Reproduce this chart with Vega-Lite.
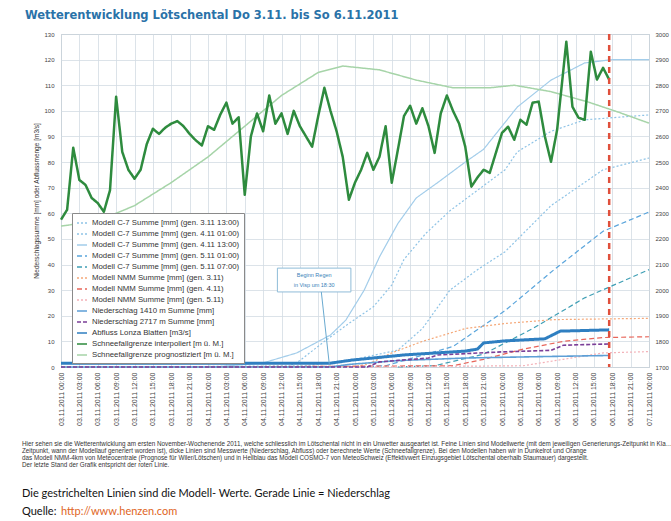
{
  "$schema": "https://vega.github.io/schema/vega-lite/v6.json",
  "padding": {"left": 22, "top": 9, "right": 0, "bottom": 0},
  "spacing": 10,
  "config": {
    "font": "Liberation Sans",
    "view": {"stroke": "#aab4bc"},
    "axis": {"labelFontSize": 6, "labelColor": "#444", "gridColor": "#d3dce3", "gridWidth": 0.8, "domain": false, "ticks": false, "titleFontSize": 6.5, "titleFontWeight": "normal", "titleColor": "#333"},
    "legend": {"orient": "none", "legendX": 11, "legendY": 179, "fillColor": "white", "strokeColor": "#8a8a8a", "padding": 4, "rowPadding": 1, "labelFontSize": 7.8, "labelColor": "#333", "symbolType": "stroke", "symbolSize": 100, "symbolStrokeWidth": 1.5, "labelLimit": 220, "labelOffset": 4}
  },
  "datasets": {
    "links": [
      {"h": 25, "serie": "Modell C-7 Summe [mm] (gen. 4.11 13:00)", "wert": 0},
      {"h": 33, "serie": "Modell C-7 Summe [mm] (gen. 4.11 13:00)", "wert": 1.6},
      {"h": 38.5, "serie": "Modell C-7 Summe [mm] (gen. 4.11 13:00)", "wert": 5.5},
      {"h": 44, "serie": "Modell C-7 Summe [mm] (gen. 4.11 13:00)", "wert": 12.5},
      {"h": 46.5, "serie": "Modell C-7 Summe [mm] (gen. 4.11 13:00)", "wert": 18.3},
      {"h": 49.5, "serie": "Modell C-7 Summe [mm] (gen. 4.11 13:00)", "wert": 30},
      {"h": 52, "serie": "Modell C-7 Summe [mm] (gen. 4.11 13:00)", "wert": 43},
      {"h": 55, "serie": "Modell C-7 Summe [mm] (gen. 4.11 13:00)", "wert": 56},
      {"h": 58, "serie": "Modell C-7 Summe [mm] (gen. 4.11 13:00)", "wert": 66},
      {"h": 61.5, "serie": "Modell C-7 Summe [mm] (gen. 4.11 13:00)", "wert": 72},
      {"h": 66, "serie": "Modell C-7 Summe [mm] (gen. 4.11 13:00)", "wert": 80},
      {"h": 69, "serie": "Modell C-7 Summe [mm] (gen. 4.11 13:00)", "wert": 85},
      {"h": 72, "serie": "Modell C-7 Summe [mm] (gen. 4.11 13:00)", "wert": 94},
      {"h": 74.5, "serie": "Modell C-7 Summe [mm] (gen. 4.11 13:00)", "wert": 101.5},
      {"h": 80, "serie": "Modell C-7 Summe [mm] (gen. 4.11 13:00)", "wert": 112},
      {"h": 85.5, "serie": "Modell C-7 Summe [mm] (gen. 4.11 13:00)", "wert": 118.7},
      {"h": 90, "serie": "Modell C-7 Summe [mm] (gen. 4.11 13:00)", "wert": 120},
      {"h": 96, "serie": "Modell C-7 Summe [mm] (gen. 4.11 13:00)", "wert": 120},
      {"h": 37, "serie": "Modell C-7 Summe [mm] (gen. 4.11 01:00)", "wert": 0},
      {"h": 39, "serie": "Modell C-7 Summe [mm] (gen. 4.11 01:00)", "wert": 2.5},
      {"h": 43, "serie": "Modell C-7 Summe [mm] (gen. 4.11 01:00)", "wert": 10},
      {"h": 47, "serie": "Modell C-7 Summe [mm] (gen. 4.11 01:00)", "wert": 17},
      {"h": 51, "serie": "Modell C-7 Summe [mm] (gen. 4.11 01:00)", "wert": 23.5},
      {"h": 54, "serie": "Modell C-7 Summe [mm] (gen. 4.11 01:00)", "wert": 32},
      {"h": 56, "serie": "Modell C-7 Summe [mm] (gen. 4.11 01:00)", "wert": 42},
      {"h": 59.5, "serie": "Modell C-7 Summe [mm] (gen. 4.11 01:00)", "wert": 52},
      {"h": 63.5, "serie": "Modell C-7 Summe [mm] (gen. 4.11 01:00)", "wert": 61},
      {"h": 72.5, "serie": "Modell C-7 Summe [mm] (gen. 4.11 01:00)", "wert": 77},
      {"h": 74.5, "serie": "Modell C-7 Summe [mm] (gen. 4.11 01:00)", "wert": 84},
      {"h": 80, "serie": "Modell C-7 Summe [mm] (gen. 4.11 01:00)", "wert": 92},
      {"h": 85.5, "serie": "Modell C-7 Summe [mm] (gen. 4.11 01:00)", "wert": 96.5},
      {"h": 96, "serie": "Modell C-7 Summe [mm] (gen. 4.11 01:00)", "wert": 98.4},
      {"h": 13, "serie": "Modell C-7 Summe [mm] (gen. 3.11 13:00)", "wert": 0},
      {"h": 40, "serie": "Modell C-7 Summe [mm] (gen. 3.11 13:00)", "wert": 0.5},
      {"h": 48, "serie": "Modell C-7 Summe [mm] (gen. 3.11 13:00)", "wert": 3},
      {"h": 55, "serie": "Modell C-7 Summe [mm] (gen. 3.11 13:00)", "wert": 6.6},
      {"h": 59, "serie": "Modell C-7 Summe [mm] (gen. 3.11 13:00)", "wert": 15},
      {"h": 63.5, "serie": "Modell C-7 Summe [mm] (gen. 3.11 13:00)", "wert": 30},
      {"h": 68, "serie": "Modell C-7 Summe [mm] (gen. 3.11 13:00)", "wert": 38},
      {"h": 72.5, "serie": "Modell C-7 Summe [mm] (gen. 3.11 13:00)", "wert": 45},
      {"h": 80, "serie": "Modell C-7 Summe [mm] (gen. 3.11 13:00)", "wert": 63},
      {"h": 88.5, "serie": "Modell C-7 Summe [mm] (gen. 3.11 13:00)", "wert": 77},
      {"h": 96, "serie": "Modell C-7 Summe [mm] (gen. 3.11 13:00)", "wert": 81.6},
      {"h": 49, "serie": "Modell C-7 Summe [mm] (gen. 5.11 01:00)", "wert": 0},
      {"h": 53, "serie": "Modell C-7 Summe [mm] (gen. 5.11 01:00)", "wert": 0.5},
      {"h": 64, "serie": "Modell C-7 Summe [mm] (gen. 5.11 01:00)", "wert": 8},
      {"h": 72.5, "serie": "Modell C-7 Summe [mm] (gen. 5.11 01:00)", "wert": 22},
      {"h": 80.5, "serie": "Modell C-7 Summe [mm] (gen. 5.11 01:00)", "wert": 38},
      {"h": 88.5, "serie": "Modell C-7 Summe [mm] (gen. 5.11 01:00)", "wert": 53},
      {"h": 96, "serie": "Modell C-7 Summe [mm] (gen. 5.11 01:00)", "wert": 60.5},
      {"h": 55, "serie": "Modell C-7 Summe [mm] (gen. 5.11 07:00)", "wert": 0},
      {"h": 61, "serie": "Modell C-7 Summe [mm] (gen. 5.11 07:00)", "wert": 0.5},
      {"h": 69, "serie": "Modell C-7 Summe [mm] (gen. 5.11 07:00)", "wert": 5},
      {"h": 77, "serie": "Modell C-7 Summe [mm] (gen. 5.11 07:00)", "wert": 15},
      {"h": 85.5, "serie": "Modell C-7 Summe [mm] (gen. 5.11 07:00)", "wert": 27},
      {"h": 96, "serie": "Modell C-7 Summe [mm] (gen. 5.11 07:00)", "wert": 38},
      {"h": 0, "serie": "Modell NMM Summe [mm] (gen. 3.11)", "wert": 0},
      {"h": 48, "serie": "Modell NMM Summe [mm] (gen. 3.11)", "wert": 0.3},
      {"h": 50, "serie": "Modell NMM Summe [mm] (gen. 3.11)", "wert": 1},
      {"h": 54, "serie": "Modell NMM Summe [mm] (gen. 3.11)", "wert": 5.5},
      {"h": 59, "serie": "Modell NMM Summe [mm] (gen. 3.11)", "wert": 10},
      {"h": 66, "serie": "Modell NMM Summe [mm] (gen. 3.11)", "wert": 15},
      {"h": 72.5, "serie": "Modell NMM Summe [mm] (gen. 3.11)", "wert": 17},
      {"h": 80.5, "serie": "Modell NMM Summe [mm] (gen. 3.11)", "wert": 18.5},
      {"h": 96, "serie": "Modell NMM Summe [mm] (gen. 3.11)", "wert": 19},
      {"h": 24, "serie": "Modell NMM Summe [mm] (gen. 4.11)", "wert": 0},
      {"h": 64, "serie": "Modell NMM Summe [mm] (gen. 4.11)", "wert": 0.5},
      {"h": 69, "serie": "Modell NMM Summe [mm] (gen. 4.11)", "wert": 3},
      {"h": 75.5, "serie": "Modell NMM Summe [mm] (gen. 4.11)", "wert": 7},
      {"h": 82, "serie": "Modell NMM Summe [mm] (gen. 4.11)", "wert": 10},
      {"h": 88.5, "serie": "Modell NMM Summe [mm] (gen. 4.11)", "wert": 11.5},
      {"h": 96, "serie": "Modell NMM Summe [mm] (gen. 4.11)", "wert": 11.8},
      {"h": 48, "serie": "Modell NMM Summe [mm] (gen. 5.11)", "wert": 0},
      {"h": 75.5, "serie": "Modell NMM Summe [mm] (gen. 5.11)", "wert": 0.5},
      {"h": 82, "serie": "Modell NMM Summe [mm] (gen. 5.11)", "wert": 3},
      {"h": 88.5, "serie": "Modell NMM Summe [mm] (gen. 5.11)", "wert": 5.5},
      {"h": 96, "serie": "Modell NMM Summe [mm] (gen. 5.11)", "wert": 6},
      {"h": 0, "serie": "Niederschlag 1410 m Summe [mm]", "wert": 0},
      {"h": 44, "serie": "Niederschlag 1410 m Summe [mm]", "wert": 0},
      {"h": 47, "serie": "Niederschlag 1410 m Summe [mm]", "wert": 1},
      {"h": 55, "serie": "Niederschlag 1410 m Summe [mm]", "wert": 2.5},
      {"h": 66, "serie": "Niederschlag 1410 m Summe [mm]", "wert": 3.5},
      {"h": 77, "serie": "Niederschlag 1410 m Summe [mm]", "wert": 4},
      {"h": 89.5, "serie": "Niederschlag 1410 m Summe [mm]", "wert": 4.5},
      {"h": 0, "serie": "Niederschlag 2717 m Summe [mm]", "wert": 0},
      {"h": 50, "serie": "Niederschlag 2717 m Summe [mm]", "wert": 0},
      {"h": 52, "serie": "Niederschlag 2717 m Summe [mm]", "wert": 2},
      {"h": 60, "serie": "Niederschlag 2717 m Summe [mm]", "wert": 3.5},
      {"h": 61.5, "serie": "Niederschlag 2717 m Summe [mm]", "wert": 4.7},
      {"h": 72, "serie": "Niederschlag 2717 m Summe [mm]", "wert": 5.9},
      {"h": 80, "serie": "Niederschlag 2717 m Summe [mm]", "wert": 6.5},
      {"h": 82, "serie": "Niederschlag 2717 m Summe [mm]", "wert": 8.5},
      {"h": 89.5, "serie": "Niederschlag 2717 m Summe [mm]", "wert": 9},
      {"h": 0, "serie": "Abfluss Lonza Blatten [m3/s]", "wert": 1.5},
      {"h": 44, "serie": "Abfluss Lonza Blatten [m3/s]", "wert": 1.5},
      {"h": 47.5, "serie": "Abfluss Lonza Blatten [m3/s]", "wert": 2.7},
      {"h": 56, "serie": "Abfluss Lonza Blatten [m3/s]", "wert": 4.7},
      {"h": 66, "serie": "Abfluss Lonza Blatten [m3/s]", "wert": 6.2},
      {"h": 68, "serie": "Abfluss Lonza Blatten [m3/s]", "wert": 7},
      {"h": 69, "serie": "Abfluss Lonza Blatten [m3/s]", "wert": 9.4},
      {"h": 72.5, "serie": "Abfluss Lonza Blatten [m3/s]", "wert": 10.2},
      {"h": 79, "serie": "Abfluss Lonza Blatten [m3/s]", "wert": 11},
      {"h": 81.5, "serie": "Abfluss Lonza Blatten [m3/s]", "wert": 14},
      {"h": 89.5, "serie": "Abfluss Lonza Blatten [m3/s]", "wert": 14.5}
    ],
    "gruen": [
      {"h": 0, "serie": "Schneefallgrenze interpoliert [m ü. M.]", "wert": 2275},
      {"h": 1, "serie": "Schneefallgrenze interpoliert [m ü. M.]", "wert": 2314},
      {"h": 2, "serie": "Schneefallgrenze interpoliert [m ü. M.]", "wert": 2556},
      {"h": 3, "serie": "Schneefallgrenze interpoliert [m ü. M.]", "wert": 2430},
      {"h": 4, "serie": "Schneefallgrenze interpoliert [m ü. M.]", "wert": 2411},
      {"h": 5, "serie": "Schneefallgrenze interpoliert [m ü. M.]", "wert": 2360},
      {"h": 6, "serie": "Schneefallgrenze interpoliert [m ü. M.]", "wert": 2340},
      {"h": 7, "serie": "Schneefallgrenze interpoliert [m ü. M.]", "wert": 2306},
      {"h": 8, "serie": "Schneefallgrenze interpoliert [m ü. M.]", "wert": 2390},
      {"h": 9, "serie": "Schneefallgrenze interpoliert [m ü. M.]", "wert": 2755},
      {"h": 10, "serie": "Schneefallgrenze interpoliert [m ü. M.]", "wert": 2540},
      {"h": 11, "serie": "Schneefallgrenze interpoliert [m ü. M.]", "wert": 2470},
      {"h": 12, "serie": "Schneefallgrenze interpoliert [m ü. M.]", "wert": 2435},
      {"h": 13, "serie": "Schneefallgrenze interpoliert [m ü. M.]", "wert": 2470},
      {"h": 14, "serie": "Schneefallgrenze interpoliert [m ü. M.]", "wert": 2570},
      {"h": 15, "serie": "Schneefallgrenze interpoliert [m ü. M.]", "wert": 2630},
      {"h": 16, "serie": "Schneefallgrenze interpoliert [m ü. M.]", "wert": 2610},
      {"h": 17, "serie": "Schneefallgrenze interpoliert [m ü. M.]", "wert": 2634},
      {"h": 18, "serie": "Schneefallgrenze interpoliert [m ü. M.]", "wert": 2650},
      {"h": 19, "serie": "Schneefallgrenze interpoliert [m ü. M.]", "wert": 2660},
      {"h": 20, "serie": "Schneefallgrenze interpoliert [m ü. M.]", "wert": 2640},
      {"h": 21, "serie": "Schneefallgrenze interpoliert [m ü. M.]", "wert": 2610},
      {"h": 22, "serie": "Schneefallgrenze interpoliert [m ü. M.]", "wert": 2585},
      {"h": 23, "serie": "Schneefallgrenze interpoliert [m ü. M.]", "wert": 2565},
      {"h": 24, "serie": "Schneefallgrenze interpoliert [m ü. M.]", "wert": 2640},
      {"h": 25, "serie": "Schneefallgrenze interpoliert [m ü. M.]", "wert": 2626},
      {"h": 26, "serie": "Schneefallgrenze interpoliert [m ü. M.]", "wert": 2685},
      {"h": 27, "serie": "Schneefallgrenze interpoliert [m ü. M.]", "wert": 2732},
      {"h": 28, "serie": "Schneefallgrenze interpoliert [m ü. M.]", "wert": 2650},
      {"h": 29, "serie": "Schneefallgrenze interpoliert [m ü. M.]", "wert": 2675},
      {"h": 30, "serie": "Schneefallgrenze interpoliert [m ü. M.]", "wert": 2372},
      {"h": 31, "serie": "Schneefallgrenze interpoliert [m ü. M.]", "wert": 2600},
      {"h": 32, "serie": "Schneefallgrenze interpoliert [m ü. M.]", "wert": 2690},
      {"h": 33, "serie": "Schneefallgrenze interpoliert [m ü. M.]", "wert": 2620},
      {"h": 34, "serie": "Schneefallgrenze interpoliert [m ü. M.]", "wert": 2760},
      {"h": 35, "serie": "Schneefallgrenze interpoliert [m ü. M.]", "wert": 2650},
      {"h": 36, "serie": "Schneefallgrenze interpoliert [m ü. M.]", "wert": 2690},
      {"h": 37, "serie": "Schneefallgrenze interpoliert [m ü. M.]", "wert": 2610},
      {"h": 38, "serie": "Schneefallgrenze interpoliert [m ü. M.]", "wert": 2700},
      {"h": 39, "serie": "Schneefallgrenze interpoliert [m ü. M.]", "wert": 2640},
      {"h": 40, "serie": "Schneefallgrenze interpoliert [m ü. M.]", "wert": 2600},
      {"h": 41, "serie": "Schneefallgrenze interpoliert [m ü. M.]", "wert": 2560},
      {"h": 42, "serie": "Schneefallgrenze interpoliert [m ü. M.]", "wert": 2680},
      {"h": 43, "serie": "Schneefallgrenze interpoliert [m ü. M.]", "wert": 2790},
      {"h": 44, "serie": "Schneefallgrenze interpoliert [m ü. M.]", "wert": 2700},
      {"h": 45, "serie": "Schneefallgrenze interpoliert [m ü. M.]", "wert": 2620},
      {"h": 46, "serie": "Schneefallgrenze interpoliert [m ü. M.]", "wert": 2520},
      {"h": 47, "serie": "Schneefallgrenze interpoliert [m ü. M.]", "wert": 2353},
      {"h": 48, "serie": "Schneefallgrenze interpoliert [m ü. M.]", "wert": 2420},
      {"h": 49, "serie": "Schneefallgrenze interpoliert [m ü. M.]", "wert": 2470},
      {"h": 50, "serie": "Schneefallgrenze interpoliert [m ü. M.]", "wert": 2536},
      {"h": 51, "serie": "Schneefallgrenze interpoliert [m ü. M.]", "wert": 2470},
      {"h": 52, "serie": "Schneefallgrenze interpoliert [m ü. M.]", "wert": 2521},
      {"h": 53, "serie": "Schneefallgrenze interpoliert [m ü. M.]", "wert": 2640},
      {"h": 54, "serie": "Schneefallgrenze interpoliert [m ü. M.]", "wert": 2419},
      {"h": 55, "serie": "Schneefallgrenze interpoliert [m ü. M.]", "wert": 2548},
      {"h": 56, "serie": "Schneefallgrenze interpoliert [m ü. M.]", "wert": 2680},
      {"h": 57, "serie": "Schneefallgrenze interpoliert [m ü. M.]", "wert": 2720},
      {"h": 58, "serie": "Schneefallgrenze interpoliert [m ü. M.]", "wert": 2650},
      {"h": 59, "serie": "Schneefallgrenze interpoliert [m ü. M.]", "wert": 2710},
      {"h": 60, "serie": "Schneefallgrenze interpoliert [m ü. M.]", "wert": 2640},
      {"h": 61, "serie": "Schneefallgrenze interpoliert [m ü. M.]", "wert": 2536},
      {"h": 62, "serie": "Schneefallgrenze interpoliert [m ü. M.]", "wert": 2690},
      {"h": 63, "serie": "Schneefallgrenze interpoliert [m ü. M.]", "wert": 2760},
      {"h": 64, "serie": "Schneefallgrenze interpoliert [m ü. M.]", "wert": 2700},
      {"h": 65, "serie": "Schneefallgrenze interpoliert [m ü. M.]", "wert": 2650},
      {"h": 66, "serie": "Schneefallgrenze interpoliert [m ü. M.]", "wert": 2560},
      {"h": 67, "serie": "Schneefallgrenze interpoliert [m ü. M.]", "wert": 2404},
      {"h": 68, "serie": "Schneefallgrenze interpoliert [m ü. M.]", "wert": 2440},
      {"h": 69, "serie": "Schneefallgrenze interpoliert [m ü. M.]", "wert": 2470},
      {"h": 70, "serie": "Schneefallgrenze interpoliert [m ü. M.]", "wert": 2458},
      {"h": 71, "serie": "Schneefallgrenze interpoliert [m ü. M.]", "wert": 2536},
      {"h": 72, "serie": "Schneefallgrenze interpoliert [m ü. M.]", "wert": 2614},
      {"h": 73, "serie": "Schneefallgrenze interpoliert [m ü. M.]", "wert": 2638},
      {"h": 74, "serie": "Schneefallgrenze interpoliert [m ü. M.]", "wert": 2587},
      {"h": 75, "serie": "Schneefallgrenze interpoliert [m ü. M.]", "wert": 2665},
      {"h": 76, "serie": "Schneefallgrenze interpoliert [m ü. M.]", "wert": 2646},
      {"h": 77, "serie": "Schneefallgrenze interpoliert [m ü. M.]", "wert": 2732},
      {"h": 78, "serie": "Schneefallgrenze interpoliert [m ü. M.]", "wert": 2736},
      {"h": 79, "serie": "Schneefallgrenze interpoliert [m ü. M.]", "wert": 2600},
      {"h": 80, "serie": "Schneefallgrenze interpoliert [m ü. M.]", "wert": 2501},
      {"h": 81, "serie": "Schneefallgrenze interpoliert [m ü. M.]", "wert": 2626},
      {"h": 82.5, "serie": "Schneefallgrenze interpoliert [m ü. M.]", "wert": 2970},
      {"h": 83.5, "serie": "Schneefallgrenze interpoliert [m ü. M.]", "wert": 2716},
      {"h": 84.5, "serie": "Schneefallgrenze interpoliert [m ü. M.]", "wert": 2673},
      {"h": 85.5, "serie": "Schneefallgrenze interpoliert [m ü. M.]", "wert": 2665},
      {"h": 86.5, "serie": "Schneefallgrenze interpoliert [m ü. M.]", "wert": 2931},
      {"h": 87.5, "serie": "Schneefallgrenze interpoliert [m ü. M.]", "wert": 2822},
      {"h": 88.5, "serie": "Schneefallgrenze interpoliert [m ü. M.]", "wert": 2868},
      {"h": 89.5, "serie": "Schneefallgrenze interpoliert [m ü. M.]", "wert": 2822},
      {"h": 0, "serie": "Schneefallgrenze prognostiziert [m ü. M.]", "wert": 2250},
      {"h": 6, "serie": "Schneefallgrenze prognostiziert [m ü. M.]", "wert": 2270},
      {"h": 12, "serie": "Schneefallgrenze prognostiziert [m ü. M.]", "wert": 2330},
      {"h": 18, "serie": "Schneefallgrenze prognostiziert [m ü. M.]", "wert": 2420},
      {"h": 24, "serie": "Schneefallgrenze prognostiziert [m ü. M.]", "wert": 2520},
      {"h": 30, "serie": "Schneefallgrenze prognostiziert [m ü. M.]", "wert": 2640},
      {"h": 36, "serie": "Schneefallgrenze prognostiziert [m ü. M.]", "wert": 2760},
      {"h": 42, "serie": "Schneefallgrenze prognostiziert [m ü. M.]", "wert": 2850},
      {"h": 46, "serie": "Schneefallgrenze prognostiziert [m ü. M.]", "wert": 2875},
      {"h": 52, "serie": "Schneefallgrenze prognostiziert [m ü. M.]", "wert": 2860},
      {"h": 58, "serie": "Schneefallgrenze prognostiziert [m ü. M.]", "wert": 2820},
      {"h": 64, "serie": "Schneefallgrenze prognostiziert [m ü. M.]", "wert": 2790},
      {"h": 70, "serie": "Schneefallgrenze prognostiziert [m ü. M.]", "wert": 2790},
      {"h": 74, "serie": "Schneefallgrenze prognostiziert [m ü. M.]", "wert": 2800},
      {"h": 80, "serie": "Schneefallgrenze prognostiziert [m ü. M.]", "wert": 2775},
      {"h": 86, "serie": "Schneefallgrenze prognostiziert [m ü. M.]", "wert": 2735},
      {"h": 91, "serie": "Schneefallgrenze prognostiziert [m ü. M.]", "wert": 2695},
      {"h": 96, "serie": "Schneefallgrenze prognostiziert [m ü. M.]", "wert": 2652}
    ],
    "texte": [
      {"art": "absatz", "zeile": 1.2, "text": "Hier sehen sie die Wetterentwicklung am ersten November-Wochenende 2011, welche schliesslich im Lötschental nicht in ein Unwetter ausgeartet ist. Feine Linien sind Modellwerte (mit dem jeweiligen Generierungs-Zeitpunkt in Klammern)"},
      {"art": "absatz", "zeile": 2.25, "text": "Zeitpunkt, wann der Modellauf generiert worden ist), dicke Linien sind Messwerte (Niederschlag, Abfluss) oder berechnete Werte (Schneefallgrenze). Bei den Modellen haben wir in Dunkelrot und Orange"},
      {"art": "absatz", "zeile": 3.3, "text": "das Modell NMM-4km von Meteocentrale (Prognose für Wiler/Lötschen) und in Hellblau das Modell COSMO-7 von MeteoSchweiz (Effektivwert Einzugsgebiet Lötschental oberhalb Staumauer) dargestellt."},
      {"art": "absatz", "zeile": 4.3, "text": "Der letzte Stand der Grafik entspricht der roten Linie."},
      {"art": "hinweis", "zeile": 8.7, "text": "Die gestrichelten Linien sind die Modell- Werte. Gerade Linie = Niederschlag"},
      {"art": "quelle", "zeile": 11.4, "text": "Quelle:"},
      {"art": "url", "zeile": 11.4, "text": "http://www.henzen.com"}
    ]
  },
  "vconcat": [
    {
      "width": 588,
      "height": 333,
      "title": {"text": "Wetterentwicklung Lötschental Do 3.11. bis So 6.11.2011", "anchor": "start", "frame": "bounds", "dx": -9, "fontSize": 11.5, "font": "DejaVu Sans", "fontWeight": "bold", "color": "#2a72a8", "offset": 10},
      "encoding": {
        "x": {"field": "h", "type": "quantitative", "title": null,
          "scale": {"domain": [0, 96], "nice": false, "zero": false},
          "axis": {"values": [0, 3, 6, 9, 12, 15, 18, 21, 24, 27, 30, 33, 36, 39, 42, 45, 48, 51, 54, 57, 60, 63, 66, 69, 72, 75, 78, 81, 84, 87, 90, 93, 96],
            "labelExpr": "'0' + (3 + floor(datum.value / 24)) + '.11.2011 ' + (datum.value % 24 < 10 ? '0' : '') + (datum.value % 24) + ':00'",
            "labelAngle": -90, "labelFlush": false, "labelOverlap": false, "labelBound": false, "labelPadding": 5, "labelFontSize": 7, "grid": true}},
        "color": {"field": "serie", "type": "nominal", "title": null,
          "scale": {"domain": ["Modell C-7 Summe [mm] (gen. 3.11 13:00)", "Modell C-7 Summe [mm] (gen. 4.11 01:00)", "Modell C-7 Summe [mm] (gen. 4.11 13:00)", "Modell C-7 Summe [mm] (gen. 5.11 01:00)", "Modell C-7 Summe [mm] (gen. 5.11 07:00)", "Modell NMM Summe [mm] (gen. 3.11)", "Modell NMM Summe [mm] (gen. 4.11)", "Modell NMM Summe [mm] (gen. 5.11)", "Niederschlag 1410 m Summe [mm]", "Niederschlag 2717 m Summe [mm]", "Abfluss Lonza Blatten [m3/s]", "Schneefallgrenze interpoliert [m ü. M.]", "Schneefallgrenze prognostiziert [m ü. M.]"],
            "range": ["#8ec3e6", "#8ec3e6", "#a3cdea", "#5aa5dc", "#3f9fb5", "#f5a878", "#e8655a", "#f3b1b8", "#5d9fd6", "#7b3f98", "#2f7fc1", "#2e8b3e", "#a6d4a8"]}},
        "strokeDash": {"field": "serie", "type": "nominal", "title": null,
          "scale": {"domain": ["Modell C-7 Summe [mm] (gen. 3.11 13:00)", "Modell C-7 Summe [mm] (gen. 4.11 01:00)", "Modell C-7 Summe [mm] (gen. 4.11 13:00)", "Modell C-7 Summe [mm] (gen. 5.11 01:00)", "Modell C-7 Summe [mm] (gen. 5.11 07:00)", "Modell NMM Summe [mm] (gen. 3.11)", "Modell NMM Summe [mm] (gen. 4.11)", "Modell NMM Summe [mm] (gen. 5.11)", "Niederschlag 1410 m Summe [mm]", "Niederschlag 2717 m Summe [mm]", "Abfluss Lonza Blatten [m3/s]", "Schneefallgrenze interpoliert [m ü. M.]", "Schneefallgrenze prognostiziert [m ü. M.]"],
            "range": [[2, 2], [2, 2], [1, 0], [5, 3], [5, 3], [2, 2], [5, 3], [2, 2], [1, 0], [4, 2], [1, 0], [1, 0], [1, 0]]}}
      },
      "layer": [
        {
          "encoding": {
            "y": {"field": "wert", "type": "quantitative", "title": "Niederschlagssumme [mm] oder Abflussmenge [m3/s]",
              "scale": {"domain": [0, 130], "nice": false},
              "axis": {"values": [0, 10, 20, 30, 40, 50, 60, 70, 80, 90, 100, 110, 120, 130], "labelPadding": 7, "titlePadding": 4, "grid": true}}
          },
          "layer": [
            {"data": {"name": "links"}, "transform": [{"filter": "datum.serie != 'Abfluss Lonza Blatten [m3/s]' && indexof(datum.serie, 'Niederschlag') < 0"}], "mark": {"type": "line", "strokeWidth": 1.2}},
            {"data": {"name": "links"}, "transform": [{"filter": "indexof(datum.serie, 'Niederschlag') == 0"}], "mark": {"type": "line", "strokeWidth": 1.6}},
            {"data": {"name": "links"}, "transform": [{"filter": "datum.serie == 'Abfluss Lonza Blatten [m3/s]'"}], "mark": {"type": "line", "strokeWidth": 3}},
            {
              "data": {"values": [{"h": 35.33, "h2": 47.33, "wert": 29.3, "wert2": 38.6}]},
              "mark": {"type": "rect", "fill": "white", "stroke": "#8fbcd8", "strokeWidth": 1},
              "encoding": {"x2": {"field": "h2"}, "y2": {"field": "wert2"}, "color": null, "strokeDash": null}
            },
            {
              "data": {"values": [{"h": 42.5, "h2": 43.8, "wert": 29.3, "wert2": 1.2}]},
              "mark": {"type": "rule", "color": "#6aaad0", "strokeWidth": 1},
              "encoding": {"x2": {"field": "h2"}, "y2": {"field": "wert2"}, "color": null, "strokeDash": null}
            },
            {
              "data": {"values": [{"h": 41.33, "wert": 35.8, "text": "Beginn Regen"}, {"h": 41.33, "wert": 32.0, "text": "in Visp um 18:30"}]},
              "mark": {"type": "text", "fontSize": 5.5, "color": "#3a7fb8", "align": "center", "baseline": "middle"},
              "encoding": {"text": {"field": "text"}, "color": null, "strokeDash": null}
            }
          ]
        },
        {
          "data": {"name": "gruen"},
          "encoding": {
            "y": {"field": "wert", "type": "quantitative", "scale": {"domain": [1700, 3000], "nice": false, "zero": false},
              "axis": {"orient": "right", "values": [1700, 1800, 1900, 2000, 2100, 2200, 2300, 2400, 2500, 2600, 2700, 2800, 2900, 3000], "format": "d", "grid": false, "title": null, "labelPadding": 6}}
          },
          "layer": [
            {"transform": [{"filter": "indexof(datum.serie, 'prognostiziert') >= 0"}], "mark": {"type": "line", "strokeWidth": 1.5}},
            {"transform": [{"filter": "indexof(datum.serie, 'interpoliert') >= 0"}], "mark": {"type": "line", "strokeWidth": 2.5, "strokeJoin": "round"}}
          ]
        },
        {
          "data": {"values": [{"h": 89.5}]},
          "mark": {"type": "rule", "color": "#e0503c", "strokeDash": [6, 5], "strokeWidth": 2.5},
          "encoding": {"color": null, "strokeDash": null}
        }
      ],
      "resolve": {"scale": {"y": "independent"}}
    },
    {
      "width": 588,
      "height": 80,
      "view": {"stroke": null},
      "data": {"name": "texte"},
      "encoding": {"y": {"field": "zeile", "type": "quantitative", "scale": {"domain": [0, 12], "nice": false, "zero": false, "reverse": true}, "axis": null}},
      "layer": [
        {"transform": [{"filter": "datum.art == 'absatz'"}], "mark": {"type": "text", "align": "left", "baseline": "middle", "x": 0, "dx": -39, "fontSize": 6.3, "color": "#333", "limit": 652, "ellipsis": ""}, "encoding": {"text": {"field": "text"}}},
        {"transform": [{"filter": "datum.art == 'hinweis'"}], "mark": {"type": "text", "align": "left", "baseline": "middle", "x": 0, "dx": -39, "fontSize": 11, "font": "Lato", "color": "#111"}, "encoding": {"text": {"field": "text"}}},
        {"transform": [{"filter": "datum.art == 'quelle'"}], "mark": {"type": "text", "align": "left", "baseline": "middle", "x": 0, "dx": -39, "fontSize": 11, "font": "Lato", "color": "#111"}, "encoding": {"text": {"field": "text"}}},
        {"transform": [{"filter": "datum.art == 'url'"}], "mark": {"type": "text", "align": "left", "baseline": "middle", "x": 0, "dx": 0, "fontSize": 11, "font": "Lato", "color": "#e0651e"}, "encoding": {"text": {"field": "text"}}}
      ]
    }
  ]
}
